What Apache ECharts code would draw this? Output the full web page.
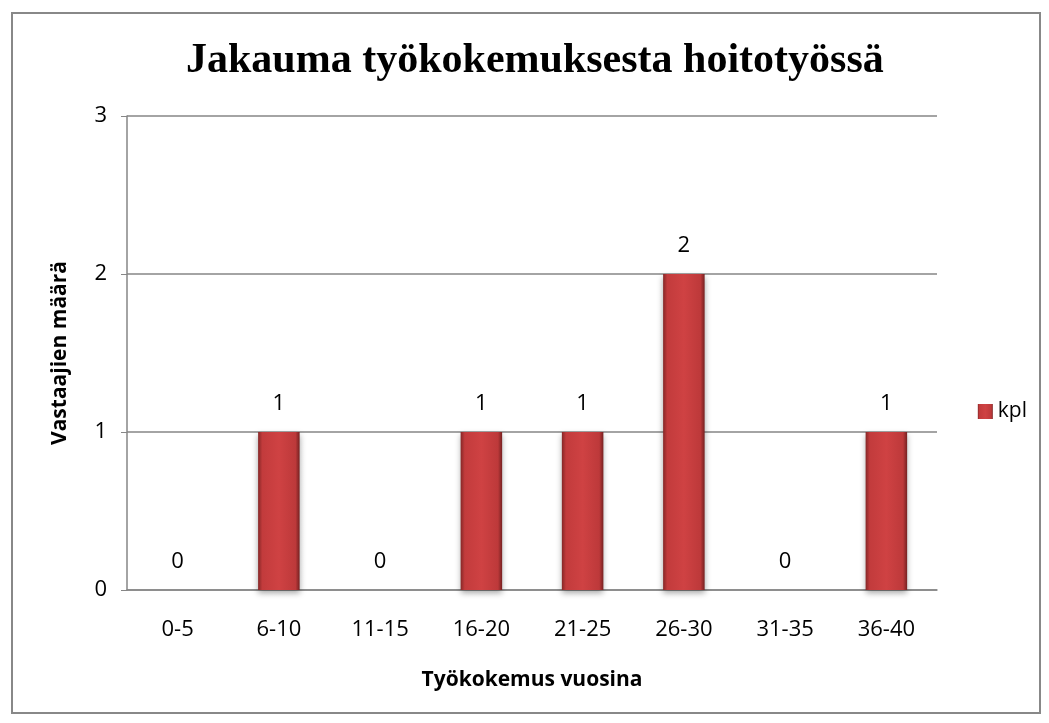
<!DOCTYPE html>
<html>
<head>
<meta charset="utf-8">
<script src="https://cdn.jsdelivr.net/npm/echarts@6/dist/echarts.min.js"></script>
<style>
  html, body { margin: 0; padding: 0; background: #fff; }
  #main { width: 1049px; height: 723px; }
</style>
</head>
<body>
<div id="main"></div>
<script>
var categories = ['0-5', '6-10', '11-15', '16-20', '21-25', '26-30', '31-35', '36-40'];
var kpl = [0, 1, 0, 1, 1, 2, 0, 1];
var yTicks = [0, 1, 2, 3];

var chart = echarts.init(document.getElementById('main'));

var labelFont = '"Open Sans", "Noto Sans", sans-serif';

// darker edges left/right give the bevel look of the original bars
var barFill = new echarts.graphic.LinearGradient(0, 0, 1, 0, [
  { offset: 0, color: '#862727' },
  { offset: 0.1, color: '#c23b3c' },
  { offset: 0.5, color: '#cf4243' },
  { offset: 0.9, color: '#bd393a' },
  { offset: 1, color: '#762121' }
]);

var option = {
  animation: false,
  backgroundColor: '#fff',
  title: {
    text: 'Jakauma työkokemuksesta hoitotyössä',
    left: 181,
    top: 35,
    textStyle: {
      fontFamily: '"Liberation Serif", "DejaVu Serif", serif',
      fontWeight: 'bold',
      fontSize: 42,
      color: '#000'
    }
  },
  legend: {
    data: ['kpl'],
    right: 17,
    top: 396,
    orient: 'vertical',
    itemWidth: 15,
    itemHeight: 15,
    itemGap: 6,
    icon: 'rect',
    textStyle: { fontFamily: labelFont, fontSize: 21, color: '#000' }
  },
  grid: {
    left: 127,
    right: 112,
    top: 116,
    bottom: 133
  },
  xAxis: {
    type: 'category',
    data: categories,
    name: 'Työkokemus vuosina',
    nameLocation: 'middle',
    nameGap: 80,
    nameTextStyle: { fontFamily: labelFont, fontWeight: 'bold', fontSize: 21, color: '#000' },
    axisLine: { lineStyle: { color: '#868686', width: 1.5 } },
    axisTick: { show: false },
    axisLabel: { fontFamily: labelFont, fontSize: 22, color: '#000', margin: 29 }
  },
  yAxis: {
    type: 'value',
    min: yTicks[0],
    max: yTicks[yTicks.length - 1],
    interval: 1,
    name: 'Vastaajien määrä',
    nameLocation: 'middle',
    nameGap: 56,
    nameRotate: 90,
    nameTextStyle: { fontFamily: labelFont, fontWeight: 'bold', fontSize: 21, color: '#000' },
    axisLine: { show: true, lineStyle: { color: '#868686', width: 1.5 } },
    axisTick: { show: true, inside: false, length: 6, lineStyle: { color: '#868686' } },
    axisLabel: { fontFamily: labelFont, fontSize: 22, color: '#000', margin: 20 },
    splitLine: { lineStyle: { color: '#868686', width: 1.5 } }
  },
  series: [{
    name: 'kpl',
    type: 'bar',
    data: kpl,
    barWidth: '41%',
    itemStyle: {
      color: barFill,
      borderWidth: 0,
      shadowColor: 'rgba(0,0,0,0.35)',
      shadowBlur: 6,
      shadowOffsetY: 3
    },
    label: {
      show: true,
      position: 'top',
      distance: 17,
      fontFamily: labelFont,
      fontSize: 22,
      color: '#000'
    }
  }],
  graphic: [{
    type: 'rect',
    shape: { x: 12, y: 13, width: 1028, height: 700 },
    style: { fill: 'none', stroke: '#888', lineWidth: 2 },
    z: 100
  }]
};

chart.setOption(option);
</script>
</body>
</html>
